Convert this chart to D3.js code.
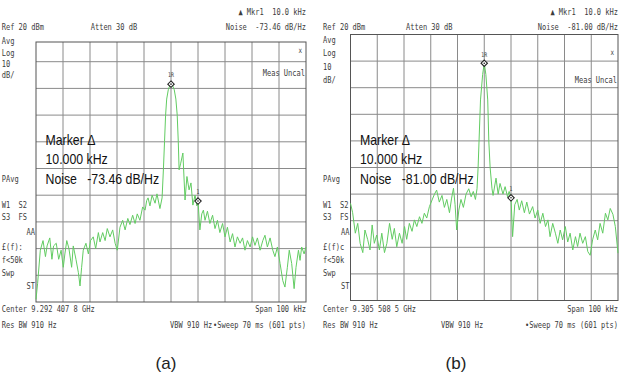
<!DOCTYPE html>
<html>
<head>
<meta charset="utf-8">
<script src="https://cdn.jsdelivr.net/npm/d3@7"></script>
<style>
  body { margin: 0; background: #fff; }
  text { white-space: pre; }
</style>
</head>
<body>
<div id="chart"></div>
<script>
// ---- trace (a): offset from centre in kHz, level in dBm ----
const freqA = [-50, -49.4, -48.4, -47.4, -46.5, -45.9, -44.9, -44.1, -43.5, -42.5,
  -41.6, -40.7, -39.9, -39.3, -38.6, -37.8, -36.8, -36.2, -35.2, -34.3,
  -33.7, -33.1, -32.5, -31.5, -30.6, -29.8, -28.8, -27.9, -26.9, -26.3,
  -25.3, -24.4, -23.6, -22.6, -21.6, -20.7, -19.9, -18.9, -17.9, -17.0,
  -16.0, -15.2, -14.2, -13.3, -12.5, -11.5, -10.5, -9.6, -9.0,
  -8.5, -7.8, -7.0, -5.9, -5.2, -4.1, -3.3, -2.8, -2.4, -2.0,
  -1.6, -1.0, -0.4, 0, 0.5, 1.2, 1.8, 2.3, 2.7, 3.0,
  3.6, 4.4, 5.2, 5.9, 6.7, 7.4, 8.1, 8.9, 9.6, 10.0,
  10.7, 11.4, 12.0, 12.6, 13.5, 14.4, 15.4, 16.3, 17.2, 18.1,
  19.1, 20.0, 20.9, 21.9, 22.8, 23.7, 24.6, 25.6, 26.5, 27.4,
  28.3, 29.3, 30.2, 31.1, 32.0, 33.0, 34.0, 34.8, 35.7, 36.7,
  37.7, 38.5, 39.4, 40.4, 41.4, 42.2, 43.1, 43.8, 44.7, 45.6,
  46.3, 47.2, 47.8, 48.4, 49.3, 50];
const levelA = [-79, -73, -60.6, -57, -63, -59, -56, -64, -59, -58,
  -64, -60.6, -67, -62, -57, -60, -67, -59, -64, -69,
  -74, -67, -60.6, -58, -62, -57, -55.6, -60, -54, -57.5,
  -54, -57, -52.5, -55.6, -53, -58, -60.6, -52, -49.4, -53,
  -48.7, -51, -47.5, -50.6, -47, -49.4, -44.4, -45.6, -42,
  -41, -44, -40, -43, -39.5, -45, -41, -30, -20, -10,
  -4, -0.5, 1.2, 1.6, 1.3, -0.5, -4, -10, -20, -30.5,
  -28, -24.2, -41.8, -33, -38, -35.4, -43.7, -40, -44, -42.2,
  -53, -47, -45.6, -49.4, -46, -50.6, -47.5, -52.5, -49.4, -54,
  -50.6, -55.6, -52, -57.5, -54.4, -59.4, -55.6, -58, -56, -60.6,
  -57, -59.4, -55.6, -58.8, -56, -60.6, -57, -55, -59.4, -56,
  -60.6, -63, -59.4, -65.6, -72, -74.4, -67, -60.6, -65.6, -75,
  -67, -60.6, -64.4, -59.4, -62, -59.4];

// ---- trace (b) ----
const freqB = [-50, -49.2, -48.2, -47.3, -46.4, -45.4, -44.6, -43.6, -42.7, -41.9,
  -41.1, -40.2, -39.2, -38.3, -37.3, -36.4, -35.4, -34.4, -33.6, -32.7,
  -31.7, -30.7, -29.8, -29.0, -28.0, -27.0, -26.1, -25.2, -24.2, -23.3,
  -22.4, -21.5, -20.5, -19.5,
  -18.6, -17.8, -16.8, -15.8, -14.9, -14.0, -13.0, -12.2, -11.5, -10.9,
  -10.3, -9.5, -8.7, -7.8, -6.8, -5.8, -4.9, -4.1, -3.3,
  -2.7, -2.3, -1.4, -0.6, 0, 0.6, 1.3, 1.7, 2.2, 2.9,
  3.3, 4.4, 5.2, 5.9, 7.0, 7.8, 8.7, 9.3, 10,
  10.6, 11.4, 12.3, 13.1, 14.0, 15.0, 15.9, 16.9, 18.1, 19.0,
  20.0, 20.9, 21.9, 22.9, 23.8, 24.6, 25.6, 26.6, 27.5, 28.4,
  29.3, 30.3, 31.2, 32.1, 33.1, 34.1, 34.9, 35.8, 36.8, 37.8,
  38.7, 39.6, 40.5, 41.5, 42.4, 43.3, 44.3, 45.3, 46.2, 47.1,
  48.1, 49.0, 50.0];
const levelB = [-43.5, -47, -54.7, -51, -58.5, -62, -53.5, -57, -61, -51.6,
  -58.5, -55.4, -61, -54.7, -62, -58.5, -51, -57, -52.9, -59.8,
  -54.7, -58.5, -52.2, -57, -51, -54, -49.7, -52.2, -48.5, -51,
  -47.2, -49, -44.7, -42.2,
  -40, -38.5, -43, -40.5, -45, -42, -47, -41.5, -37.8, -44,
  -53.5, -46, -42, -45, -40, -38, -41, -39, -42,
  -38, -30, -4.6, 5, 9.2, 5, -4.6, -20, -30, -38,
  -40.5, -34, -40, -36, -40, -37.2, -41, -39, -41.4,
  -56, -44, -42, -46, -42.5, -47, -43, -47.5, -44.7, -49,
  -46, -51, -47.2, -52.2, -49.7, -56, -51, -54.7, -58.5, -53.5,
  -57.2, -52.2, -58, -54.7, -61, -56, -59.7, -54.7, -58.5, -56,
  -61.6, -63, -57.2, -53.5, -57.2, -51, -54.7, -47.2, -49.7, -45.4,
  -47.6, -52.2, -62.2];

// markers: reference (1R) at centre, delta (1) at +10 kHz
const markerFreq = [0, 10];
const markerLevelA = [1.6, -42.2];
const markerLevelB = [9.2, -41.4];
const markerNames = ['1R', '1'];

// texts
const noiseA = '-73.46 dB/Hz';
const noiseB = '-81.00 dB/Hz';
const centerA = 'Center 9.292 407 8 GHz';
const centerB = 'Center 9.305 508 5 GHz';
const sideLabels = ['Avg', 'Log', '10', 'dB/'];
const captions = ['(a)', '(b)'];

const svg = d3.select('#chart')
  .append('svg')
  .attr('width', 626)
  .attr('height', 372)
  .style('background', '#fff');

// analyzer style small text (narrow mono)
function smallText(g, x, y, str, anchor = 'start', size = 9.5) {
  g.append('text')
    .attr('transform', `translate(${x},${y}) scale(0.74,1)`)
    .attr('text-anchor', anchor)
    .attr('dy', '0.35em')
    .attr('font-family', 'DejaVu Sans Mono')
    .attr('font-size', size)
    .attr('fill', '#3c3c3c')
    .text(str);
}

function bigText(g, x, y, str) {
  g.append('text')
    .attr('transform', `translate(${x},${y}) scale(0.88,1)`)
    .attr('dy', '0.35em')
    .attr('font-family', 'Liberation Sans, Arial, sans-serif')
    .attr('font-size', 14)
    .attr('fill', '#111')
    .text(str);
}

function drawPanel(p) {
  const g = svg.append('g');

  const x = d3.scaleLinear().domain([-50, 50]).range([p.x0, p.x1]);
  const y = d3.scaleLinear().domain([-80, 20]).range([p.bottom, p.bottom - 10 * p.div]);

  // graticule
  const grid = g.append('g').attr('stroke', '#8a8a8a').attr('stroke-width', 1);
  grid.selectAll('line.v')
    .data(d3.range(-40, 50, 10))
    .join('line')
    .attr('class', 'v')
    .attr('x1', d => x(d)).attr('x2', d => x(d))
    .attr('y1', p.top).attr('y2', p.bottom);
  grid.selectAll('line.h')
    .data(d3.range(-70, 20, 10).filter(d => y(d) > p.top + 2))
    .join('line')
    .attr('class', 'h')
    .attr('x1', p.x0).attr('x2', p.x1)
    .attr('y1', d => y(d)).attr('y2', d => y(d));
  g.append('rect')
    .attr('x', p.x0).attr('y', p.top)
    .attr('width', p.x1 - p.x0).attr('height', p.bottom - p.top)
    .attr('fill', 'none')
    .attr('stroke', '#555')
    .attr('stroke-width', 1);

  // trace
  const line = d3.line()
    .x((d, i) => x(p.freq[i]))
    .y(d => y(Math.max(-80, d)));
  g.append('path')
    .datum(p.level)
    .attr('d', line)
    .attr('fill', 'none')
    .attr('stroke', '#62cc62')
    .attr('stroke-width', 1)
    .attr('stroke-linejoin', 'round');

  // markers
  const mk = g.selectAll('g.marker')
    .data(markerFreq)
    .join('g')
    .attr('class', 'marker')
    .attr('transform', (d, i) => `translate(${x(d)},${y(p.markers[i])})`);
  mk.append('path')
    .attr('d', 'M0,-3.2L3.2,0L0,3.2L-3.2,0Z')
    .attr('fill', '#fff')
    .attr('stroke', '#222')
    .attr('stroke-width', 1.1);
  mk.append('circle').attr('r', 0.8).attr('fill', '#222');
  mk.each(function (d, i) {
    smallText(d3.select(this), 0, -9, markerNames[i], 'middle', 6.5);
  });

  // header
  smallText(g, p.x1, 12, '\u25B2 Mkr1  10.0 kHz', 'end');
  smallText(g, p.labelX, 27, 'Ref 20 dBm');
  smallText(g, p.attenX, 27, 'Atten 30 dB');
  smallText(g, p.x1, 27, 'Noise  ' + p.noise, 'end');

  // left column
  sideLabels.forEach((s, i) => smallText(g, p.labelX, p.sideY[i], s));
  smallText(g, p.labelX, 179, 'PAvg');
  smallText(g, p.labelX, 205, 'W1  S2');
  smallText(g, p.labelX, 216.5, 'S3  FS');
  smallText(g, p.x0 - 1, 231.5, 'AA', 'end');
  smallText(g, p.labelX, 246.5, p.lf);
  smallText(g, p.labelX, 260, 'f<50k');
  smallText(g, p.labelX, 273, 'Swp');
  smallText(g, p.x0 - 1, 286, 'ST', 'end');

  // inside graticule
  smallText(g, p.x1 - 4, p.xMarkY, 'x', 'end', 8);
  smallText(g, p.x1 - 1, p.uncalY, 'Meas Uncal', 'end');

  // bottom
  smallText(g, p.labelX, 308.5, p.center);
  smallText(g, p.x1, 308.5, 'Span 100 kHz', 'end');
  smallText(g, p.labelX, 325, 'Res BW 910 Hz');
  smallText(g, p.vbwX, 325, 'VBW 910 Hz');
  smallText(g, p.x1, 325, '\u2022Sweep 70 ms (601 pts)', 'end');

  // marker readout
  bigText(g, p.x0 + 9.5, 140, 'Marker \u0394');
  bigText(g, p.x0 + 9.5, 159.5, '10.000 kHz');
  bigText(g, p.x0 + 9.5, 179.5, 'Noise   ' + p.noise);

  // caption
  g.append('text')
    .attr('x', p.capX).attr('y', 363)
    .attr('dy', '0.35em')
    .attr('text-anchor', 'middle')
    .attr('font-family', 'Liberation Sans, Arial, sans-serif')
    .attr('font-size', 17)
    .attr('fill', '#222')
    .text(p.caption);
}

drawPanel({
  freq: freqA, level: levelA, markers: markerLevelA,
  x0: 36, x1: 306, top: 42, bottom: 302, div: 26.7,
  labelX: 1.7, attenX: 90.7, vbwX: 170,
  sideY: [41, 52.5, 64, 74.5], xMarkY: 50, uncalY: 73,
  noise: noiseA, center: centerA, lf: '\u00A3(f):',
  capX: 166, caption: captions[0]
});

drawPanel({
  freq: freqB, level: levelB, markers: markerLevelB,
  x0: 350.5, x1: 618, top: 34.5, bottom: 300.5, div: 26.6,
  labelX: 323, attenX: 406, vbwX: 441,
  sideY: [40, 53, 66.5, 79.5], xMarkY: 52.5, uncalY: 80,
  noise: noiseB, center: centerB, lf: '\u00A3(f)c',
  capX: 456, caption: captions[1]
});
</script>
</body>
</html>
